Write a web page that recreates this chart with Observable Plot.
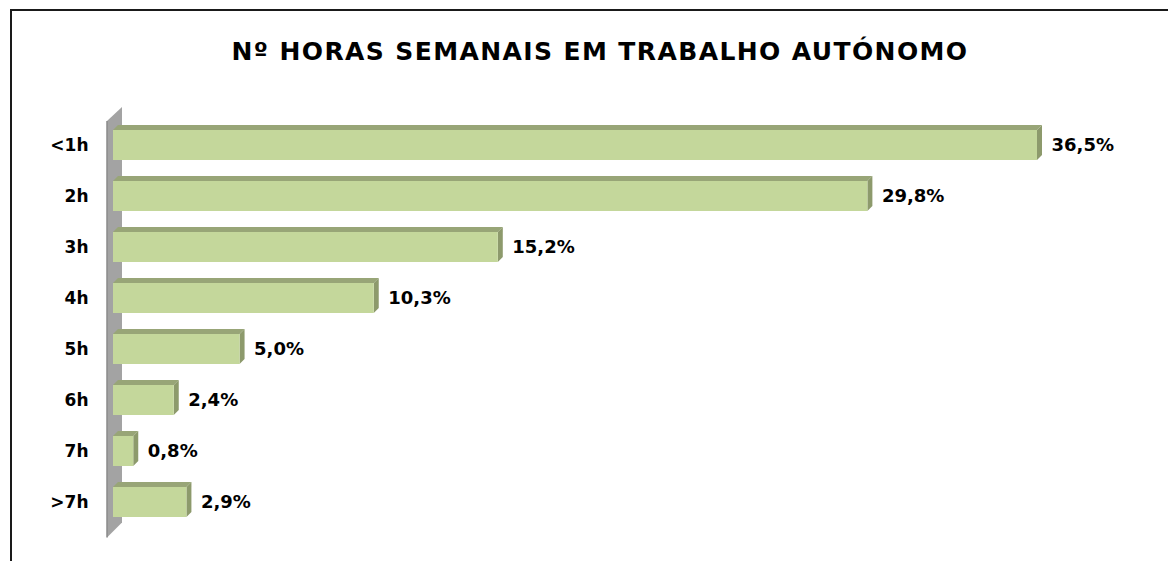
<!DOCTYPE html>
<html>
<head>
<meta charset="utf-8">
<script src="https://cdn.jsdelivr.net/npm/d3@7"></script>
<script src="https://cdn.jsdelivr.net/npm/@observablehq/plot@0.6"></script>
<style>
  html, body { margin: 0; padding: 0; background: #fff; }
  #wrap { position: relative; width: 1168px; height: 561px; overflow: hidden; font-family: "DejaVu Sans", sans-serif; }
  #frame { position: absolute; left: 10px; top: 9px; width: 1300px; height: 700px; border: 2px solid #1a1a1a; box-sizing: border-box; }
  #title { position: absolute; left: 0; top: 37px; width: 1200px; text-align: center; font-weight: bold; font-size: 25px; line-height: 30px; letter-spacing: 1.4px; color: #000; white-space: nowrap; }
  #chart { position: absolute; left: 0; top: 0; }
</style>
</head>
<body>
<div id="wrap">
  <div id="frame"></div>
  <div id="chart"></div>
  <div id="title">Nº HORAS SEMANAIS EM TRABALHO AUTÓNOMO</div>
</div>
<script>
const categories = ["<1h", "2h", "3h", "4h", "5h", "6h", "7h", ">7h"];
const values = [36.5, 29.8, 15.2, 10.3, 5.0, 2.4, 0.8, 2.9];
const valueLabels = ["36,5%", "29,8%", "15,2%", "10,3%", "5,0%", "2,4%", "0,8%", "2,9%"];

const data = categories.map((c, i) => ({cat: c, value: values[i], label: valueLabels[i]}));

const front = "#c4d79b";
const dark = "#98a577";
const D = 5; // 3D depth in px

function wall(index, scales, values, dims) {
  const {x} = scales;
  const x0 = x(0);
  const top = dims.marginTop;
  const bottom = dims.height - dims.marginBottom;
  const g = d3.create("svg:g");
  g.append("path")
    .attr("d", `M${x0 - 6},${top + 14} L${x0 + 9},${top} L${x0 + 9},${bottom - 17} L${x0 - 6},${bottom - 2} Z`)
    .attr("fill", "#a3a3a3");
  g.append("path")
    .attr("d", `M${x0 - 6},${top + 14} L${x0 - 6},${bottom - 2}`)
    .attr("stroke", "#8a8a8a").attr("stroke-width", 1.5);
  return g.node();
}

function faces(index, scales) {
  const {x, y} = scales;
  const bw = y.bandwidth();
  const g = d3.create("svg:g");
  for (const d of data) {
    const x0 = x(0), x1 = x(d.value), t = y(d.cat), b = t + bw;
    g.append("path")
      .attr("d", `M${x0},${t} L${x0 + D},${t - D} L${x1 + D},${t - D} L${x1},${t} Z`)
      .attr("fill", dark);
    g.append("path")
      .attr("d", `M${x1},${t} L${x1 + D},${t - D} L${x1 + D},${b - D} L${x1},${b} Z`)
      .attr("fill", "#8d9a6c");
  }
  return g.node();
}

const chart = Plot.plot({
  width: 1168,
  height: 561,
  marginLeft: 113,
  marginRight: 131,
  marginTop: 107,
  marginBottom: 21.5,
  style: {fontFamily: "DejaVu Sans, sans-serif", fontSize: "17px", fontWeight: "bold", color: "#000", background: "transparent"},
  x: {domain: [0, 36.5], axis: null},
  y: {domain: categories, padding: 0.417, tickSize: 0, tickPadding: 25, label: null},
  marks: [
    wall,
    faces,
    Plot.barX(data, {x: "value", y: "cat", fill: front}),
    Plot.text(data, {x: "value", y: "cat", text: "label", dx: 14, textAnchor: "start", fontSize: 18, fontWeight: "bold", fill: "#000"})
  ]
});
document.getElementById("chart").appendChild(chart);
</script>
</body>
</html>
